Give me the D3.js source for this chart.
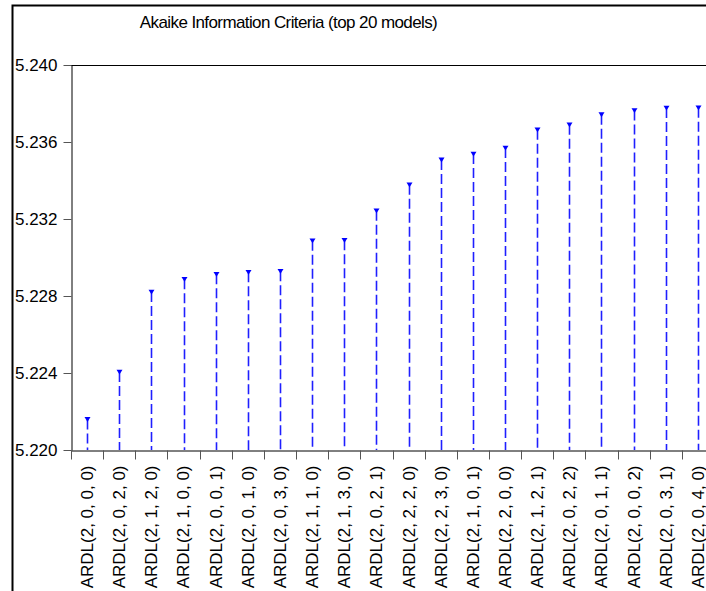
<!DOCTYPE html>
<html>
<head>
<meta charset="utf-8">
<script src="https://cdn.jsdelivr.net/npm/d3@7"></script>
<style>
  html, body { margin: 0; padding: 0; background: #fff; }
  svg { display: block; font-family: Arial, "Liberation Sans", sans-serif; }
</style>
</head>
<body>
<div class="chart"></div>
<script>
const models = [
  'ARDL(2, 0, 0, 0)', 'ARDL(2, 0, 2, 0)', 'ARDL(2, 1, 2, 0)', 'ARDL(2, 1, 0, 0)',
  'ARDL(2, 0, 0, 1)', 'ARDL(2, 0, 1, 0)', 'ARDL(2, 0, 3, 0)', 'ARDL(2, 1, 1, 0)',
  'ARDL(2, 1, 3, 0)', 'ARDL(2, 0, 2, 1)', 'ARDL(2, 2, 2, 0)', 'ARDL(2, 2, 3, 0)',
  'ARDL(2, 1, 0, 1)', 'ARDL(2, 2, 0, 0)', 'ARDL(2, 1, 2, 1)', 'ARDL(2, 0, 2, 2)',
  'ARDL(2, 0, 1, 1)', 'ARDL(2, 0, 0, 2)', 'ARDL(2, 0, 3, 1)', 'ARDL(2, 0, 4, 0)'
];
const aic = [
  5.22159, 5.22405, 5.22821, 5.22887, 5.22913, 5.22923, 5.22928, 5.23087,
  5.23089, 5.23243, 5.23378, 5.23507, 5.23538, 5.23569, 5.23664, 5.23690,
  5.23742, 5.23763, 5.23777, 5.23778
];
const yTicks = [5.220, 5.224, 5.228, 5.232, 5.236, 5.240];
const title = 'Akaike Information Criteria (top 20 models)';

const FULL_WIDTH = 706;
const FULL_HEIGHT = 591;
const plot = { left: 71, top: 65, bottom: 450, step: 32.15 };
const plotRight = plot.left + plot.step * models.length;

const svg = d3.select('.chart')
  .append('svg')
    .attr('width', FULL_WIDTH)
    .attr('height', FULL_HEIGHT);

// outer frame (only top and left sides are in view)
svg.append('path')
  .attr('d', `M12.5,${FULL_HEIGHT} V5.5 H${FULL_WIDTH}`)
  .attr('fill', 'none')
  .attr('stroke', '#000')
  .attr('stroke-width', 2);

svg.append('text')
  .attr('x', 288.5)
  .attr('y', 28)
  .attr('text-anchor', 'middle')
  .attr('font-size', 17)
  .attr('letter-spacing', -0.6)
  .attr('fill', '#000')
  .text(title);

const xScale = d3.scaleBand()
  .domain(models)
  .range([plot.left, plotRight])
  .padding(0);

const yScale = d3.scaleLinear()
  .domain([yTicks[0], yTicks[yTicks.length - 1]])
  .range([plot.bottom, plot.top]);

// plot box top and right
svg.append('path')
  .attr('d', `M${plot.left},${plot.top + 0.5} H${plotRight + 0.5} V${plot.bottom}`)
  .attr('fill', 'none')
  .attr('stroke', '#000');

const yAxis = svg.append('g')
  .attr('transform', `translate(${plot.left + 0.5}, 0)`)
  .call(d3.axisLeft(yScale)
    .tickValues(yTicks)
    .tickFormat(d3.format('.3f'))
    .tickSize(8)
    .tickSizeOuter(0)
    .tickPadding(6));
yAxis.select('.domain').attr('stroke', '#000');
yAxis.selectAll('.tick line').attr('stroke', '#555');
yAxis.selectAll('.tick text')
  .attr('font-size', 17)
  .attr('font-family', 'Arial, "Liberation Sans", sans-serif')
  .attr('fill', '#000');

const xAxis = svg.append('g')
  .attr('transform', `translate(0, ${plot.bottom + 0.5})`)
  .call(d3.axisBottom(xScale).tickSize(0).tickSizeOuter(0));
xAxis.select('.domain').attr('stroke', '#000');
xAxis.selectAll('.tick text')
  .attr('font-size', 17)
  .attr('font-family', 'Arial, "Liberation Sans", sans-serif')
  .attr('fill', '#000')
  .attr('text-anchor', 'end')
  .attr('transform', 'rotate(-90)')
  .attr('x', -15)
  .attr('y', 0)
  .attr('dy', '0.35em');

// ticks between categories
xAxis.selectAll('line.sep')
  .data(models.concat(['_end']))
  .enter()
  .append('line')
    .attr('class', 'sep')
    .attr('x1', (d, i) => Math.round(plot.left + i * xScale.step()) + 0.5)
    .attr('x2', (d, i) => Math.round(plot.left + i * xScale.step()) + 0.5)
    .attr('y1', 0)
    .attr('y2', 9)
    .attr('stroke', '#555');

const stems = svg.append('g');
const points = models.map((m, i) => ({ model: m, value: aic[i] }));

stems.selectAll('line')
  .data(points)
  .enter()
  .append('line')
    .attr('x1', d => Math.round(xScale(d.model) + xScale.bandwidth() / 2) + 0.5)
    .attr('x2', d => Math.round(xScale(d.model) + xScale.bandwidth() / 2) + 0.5)
    .attr('y1', d => yScale(d.value))
    .attr('y2', plot.bottom)
    .attr('stroke', '#1f1fff')
    .attr('stroke-width', 1.6)
    .attr('stroke-dasharray', '10,4');

stems.selectAll('path')
  .data(points)
  .enter()
  .append('path')
    .attr('transform', d => `translate(${Math.round(xScale(d.model) + xScale.bandwidth() / 2) + 0.5}, ${yScale(d.value)})`)
    .attr('d', 'M-3,-2.3 L3,-2.3 L0,2.5 Z')
    .attr('fill', '#0000ff');
</script>
</body>
</html>
